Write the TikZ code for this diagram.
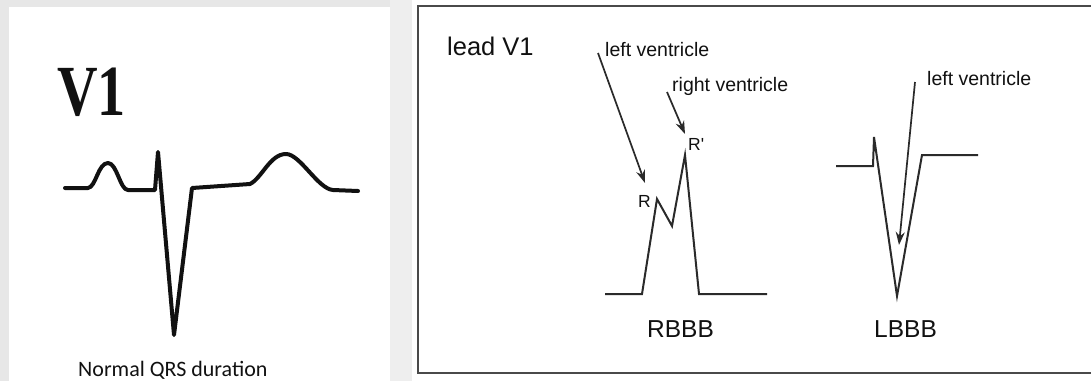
\documentclass[tikz,border=0pt]{standalone}
\usepackage{fontspec}
\setmainfont{Liberation Serif}
\newfontfamily\arialfont{Liberation Sans}
\newfontfamily\calfont{Carlito}
\usetikzlibrary{arrows.meta}
\definecolor{pagegray}{HTML}{E7E7E7}
\definecolor{gapgray}{HTML}{EEEEEE}
\definecolor{ink}{HTML}{111111}
\definecolor{lineink}{HTML}{2A2A2A}
\definecolor{frameink}{HTML}{4A4A4A}
\tikzset{
  ecgthick/.style={draw=ink, line width=4pt, line join=round, line cap=round},
  ecgthin/.style={draw=lineink, line width=2pt, line join=miter},
  pointer/.style={draw=lineink, line width=1.7pt, -{Stealth[length=13pt,width=9pt]}},
  sanslabel/.style={anchor=base west, inner sep=0pt, text=ink, font=\arialfont\fontsize{19.5}{22}\selectfont},
  biglabel/.style={anchor=base west, inner sep=0pt, text=ink, font=\arialfont\fontsize{24.5}{28}\selectfont},
}
\begin{document}
\begin{tikzpicture}[x=1pt, y=-1pt]
\useasboundingbox (0,0) rectangle (1091,381);
% backgrounds
\fill[pagegray] (0,0) rectangle (1091,381);
\fill[gapgray] (390,0) rectangle (412,381);
\fill[white] (9,7) rectangle (390,381);
\fill[white] (412,0) rectangle (1091,381);
\draw[frameink, line width=2pt] (1100,6) -- (418,6) -- (418,373) -- (1100,373);

% ---- normal V1 complex ----
\node[anchor=base west, inner sep=0pt, text=ink] (v1) at (57,115)
  {\fontsize{72}{80}\selectfont\scalebox{0.78}[1]{\bfseries V1}};
\coordinate (n0) at (65,188);
\coordinate (n1) at (88,188);
\coordinate (np) at (108,163);
\coordinate (n2) at (128,190);
\coordinate (n3) at (155,190);
\coordinate (nr) at (158,152);
\coordinate (ns) at (174,335);
\coordinate (n4) at (192,188);
\coordinate (n5) at (250,184);
\coordinate (nt) at (286,154);
\coordinate (n6) at (333,190);
\coordinate (n7) at (358,191);
\draw[ecgthick] (n0) -- (n1)
  .. controls (96,187) and (98,163) .. (np)
  .. controls (117,163) and (120,190) .. (n2)
  -- (n3) -- (nr) -- (ns) -- (n4) -- (n5)
  .. controls (262,178) and (270,154) .. (nt)
  .. controls (300,154) and (318,189) .. (n6) -- (n7);
\node[anchor=base west, inner sep=0pt, text=ink, font=\calfont\fontsize{22}{26}\selectfont] (normal) at (78,376) {Normal QRS duration};

% ---- lead V1, bundle branch blocks ----
\node[biglabel, font=\arialfont\fontsize{25.5}{28}\selectfont] (lead) at (447,55) {lead V1};

% RBBB
\coordinate (r0) at (605,294);
\coordinate (r1) at (642,294);
\coordinate (rR) at (657,199);
\coordinate (rS) at (672,226);
\coordinate (rRp) at (685,155);
\coordinate (r2) at (699,294);
\coordinate (r3) at (767,294);
\draw[ecgthin] (r0) -- (r1) -- (rR) -- (rS) -- (rRp) -- (r2) -- (r3);
\node[anchor=base west, inner sep=0pt, text=ink, font=\arialfont\fontsize{17.5}{20}\selectfont] (lblR) at (638,207) {R};
\node[anchor=base west, inner sep=0pt, text=ink, font=\arialfont\fontsize{17.5}{20}\selectfont] (lblRp) at (688,150) {R'};
\node[sanslabel] (lvR) at (605,56) {left ventricle};
\node[sanslabel] (rvR) at (672,91) {right ventricle};
\coordinate (a1s) at (598,53);
\coordinate (a1e) at (645,183);
\coordinate (a2s) at (667,92);
\coordinate (a2e) at (685,134);
\draw[pointer] (a1s) -- (a1e);
\draw[pointer] (a2s) -- (a2e);
\node[biglabel] (rbbb) at (647,337) {RBBB};

% LBBB
\coordinate (l0) at (836,166);
\coordinate (l1) at (873,166);
\coordinate (lr) at (874,137);
\coordinate (lS) at (897,296);
\coordinate (l2) at (922,155);
\coordinate (l3) at (978,155);
\draw[ecgthin] (l0) -- (l1) -- (lr) -- (lS) -- (l2) -- (l3);
\node[sanslabel] (lvL) at (927,85) {left ventricle};
\coordinate (a3s) at (915,82);
\coordinate (a3e) at (899,245);
\draw[pointer] (a3s) -- (a3e);
\node[biglabel] (lbbb) at (874,337) {LBBB};
\end{tikzpicture}
\end{document}
